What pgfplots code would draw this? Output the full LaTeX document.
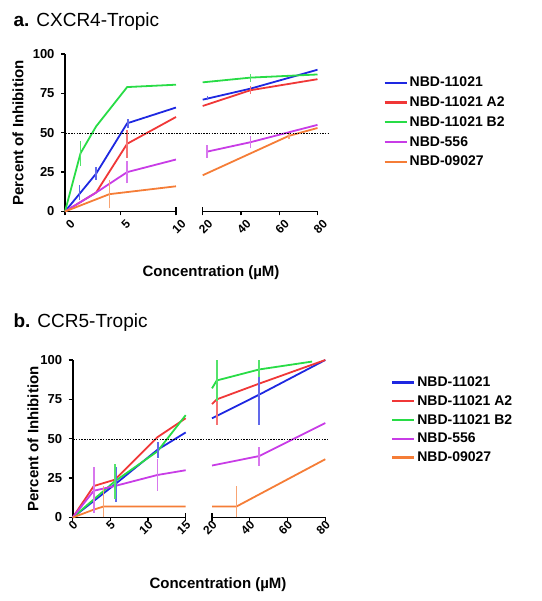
\documentclass[border=0pt]{standalone}
\usepackage{pgfplots}
\pgfplotsset{compat=1.18}
\usepackage{fontspec}
\setmainfont{Liberation Sans}
\definecolor{cblue}{RGB}{30,40,225}
\definecolor{cred}{RGB}{240,55,55}
\definecolor{cgreen}{RGB}{40,220,70}
\definecolor{cmag}{RGB}{200,60,230}
\definecolor{corange}{RGB}{245,125,55}
\newcommand{\fs}[1]{\fontsize{#1}{#1}\selectfont}
\pgfplotsset{
  base/.style={scale only axis, ymin=0, ymax=100, clip=false,
    axis line style={line width=1.8pt,-}, tick style={line width=1.4pt, black},
    major tick length=4pt, tick align=outside,
    xticklabel style={font=\bfseries\fs{12}, rotate=45, anchor=east, inner sep=1pt, xshift=2pt},
    yticklabel style={font=\bfseries\fs{13}, xshift=-3pt},
    /pgf/number format/assume math mode=true,
    every axis plot/.append style={line width=1.8pt},
    legend image code/.code={\draw[line width=2.2pt] (0pt,0pt) -- (22pt,0pt);},
    legend cell align=left},
  leftax/.style={base, axis x line*=bottom, axis y line*=left, ytick={0,25,50,75,100}},
  rightax/.style={base, axis x line*=bottom, axis y line=none},
  eb/.style={#1, line width=1.8pt, forget plot, unbounded coords=jump},
  dline/.style={black, line width=0.7pt, dash pattern=on 1.5pt off 1.2pt, forget plot},
}
\begin{document}
\begin{tikzpicture}[x=1pt,y=1pt]
\useasboundingbox (0,0) rectangle (541,601);
% ---------------- panel a -----------------
\node[anchor=base west] at (10,574.3) {\fs{19}\textbf{a.} CXCR4-Tropic};
\node[rotate=90, font=\bfseries\fs{15}] at (18,468) {Percent of Inhibition};
\node[font=\bfseries\fs{15}] at (211,328) {Concentration (\textmu M)};
\begin{axis}[leftax, at={(65pt,389.5pt)}, anchor=south west, width=111pt, height=157.5pt,
  xticklabel style={yshift=-10pt},
  xmin=0, xmax=10, xtick={0,5}, extra x ticks={10}, extra tick style={tick align=center, major tick length=8pt}]
\addplot[cblue] coordinates {(0,0) (1.4,12) (2.8,24) (5.6,56) (10,66)};
\addplot[cred] coordinates {(0,0) (2.8,12) (5.6,43) (10,60)};
\addplot[cgreen] coordinates {(0,0) (1.4,37) (2.8,54) (5.6,79) (10,80.5)};
\addplot[cmag] coordinates {(0,0) (2.8,12) (5.6,25) (10,33)};
\addplot[corange] coordinates {(0,0) (4,11) (10,16)};
\addplot[eb=cblue!70] coordinates {(1.3,7) (1.3,17) (nan,nan) (2.8,20) (2.8,28) (nan,nan) (5.7,53) (5.7,59)};
\addplot[eb=cred!70] coordinates {(5.6,34) (5.6,52)};
\addplot[eb=cgreen!80] coordinates {(1.4,29) (1.4,45)};
\addplot[eb=cmag!70] coordinates {(5.6,18) (5.6,32)};
\addplot[eb=corange!70] coordinates {(4,2) (4,20)};
\end{axis}
\begin{axis}[rightax, at={(202.7pt,389.5pt)}, anchor=south west, width=114.8pt, height=157.5pt,
  xticklabel style={yshift=-10pt},
  xmin=20, xmax=80, xtick={40,60,80}, extra x ticks={20}, extra tick style={tick align=center, major tick length=8pt},
  legend style={draw=none, fill=none, at={(1.547,0.88)}, anchor=north west, font=\bfseries\fs{14}, row sep=4.5pt}]
\addplot[cblue] coordinates {(20,71) (45,78) (80,90)};
\addplot[cred] coordinates {(20,67) (45,77) (80,84)};
\addplot[cgreen] coordinates {(20,82) (45,85) (80,87)};
\addplot[cmag] coordinates {(22.3,38) (45,44) (80,55)};
\addplot[corange] coordinates {(20,23) (65,48) (80,53)};
\addplot[eb=cblue!70] coordinates {(22.5,70.5) (22.5,73.5)};
\addplot[eb=cred!70] coordinates {(45,74.5) (45,79.5)};
\addplot[eb=cgreen!80] coordinates {(45,82.5) (45,87.5)};
\addplot[eb=cmag!70] coordinates {(22.3,34) (22.3,42) (nan,nan) (45,40) (45,48)};
\addplot[eb=corange!70] coordinates {(65,46) (65,50)};
\addplot[dline] coordinates {(-51.6,49.4) (85.6,49.4)};
\legend{NBD-11021, NBD-11021 A2, NBD-11021 B2, NBD-556, NBD-09027}
\end{axis}
% ---------------- panel b -----------------
\node[anchor=base west] at (10,273) {\fs{19}\textbf{b.} CCR5-Tropic};
\node[rotate=90, font=\bfseries\fs{15}] at (33,162) {Percent of Inhibition};
\node[font=\bfseries\fs{15}] at (218,16) {Concentration (\textmu M)};
\begin{axis}[leftax, at={(72.7pt,83.5pt)}, anchor=south west, width=113pt, height=157.5pt,
  xticklabel style={yshift=-3pt},
  xmin=0, xmax=15, xtick={0,5,10}, extra x ticks={15}, extra tick style={tick align=center, major tick length=8pt}]
\addplot[cblue] coordinates {(0,0) (5.6,21) (11.25,43) (15,54)};
\addplot[cred] coordinates {(0,0) (2.8,20) (5.6,24) (11.25,51) (15,63)};
\addplot[cgreen] coordinates {(0,0) (5.6,23) (11.25,42) (15,65)};
\addplot[cmag] coordinates {(0,0) (2.8,17) (5.6,20) (11.25,27) (15,30)};
\addplot[corange] coordinates {(0,0) (2.8,5) (4.1,7) (15,7)};
\addplot[eb=cblue!70] coordinates {(5.7,10) (5.7,32) (nan,nan) (11.3,38) (11.3,48)};
\addplot[eb=cmag!70] coordinates {(2.8,3) (2.8,32) (nan,nan) (11.25,17) (11.25,37)};
\addplot[eb=cgreen!80] coordinates {(5.6,12) (5.6,34)};
\addplot[eb=corange!70] coordinates {(4.1,0) (4.1,20)};
\end{axis}
\begin{axis}[rightax, at={(212pt,83.5pt)}, anchor=south west, width=113.3pt, height=157.5pt,
  xticklabel style={yshift=-3pt},
  xmin=20, xmax=80, xtick={40,60,80}, extra x ticks={20}, extra tick style={tick align=center, major tick length=8pt},
  legend style={draw=none, fill=none, at={(1.553,0.92)}, anchor=north west, font=\bfseries\fs{14}, row sep=3.5pt}]
\addplot[cblue] coordinates {(20,63) (45,78) (80,100)};
\addplot[cred] coordinates {(20,72) (22.5,75) (45,85) (80,100)};
\addplot[cgreen] coordinates {(20,82) (22.5,87) (45,94) (73,99)};
\addplot[cmag] coordinates {(20,33) (45,39) (80,60)};
\addplot[corange] coordinates {(20,7) (33,7) (80,37)};
\addplot[eb=cred!70] coordinates {(22.5,59) (22.5,87)};
\addplot[eb=cgreen!80] coordinates {(22.5,74) (22.5,100) (nan,nan) (45,88) (45,100)};
\addplot[eb=cblue!70] coordinates {(45,59) (45,89)};
\addplot[eb=cmag!70] coordinates {(45,33) (45,45)};
\addplot[eb=corange!70] coordinates {(33,0) (33,20)};
\addplot[dline] coordinates {(-53.5,49.5) (81.4,49.5)};
\legend{NBD-11021, NBD-11021 A2, NBD-11021 B2, NBD-556, NBD-09027}
\end{axis}
\end{tikzpicture}
\end{document}
